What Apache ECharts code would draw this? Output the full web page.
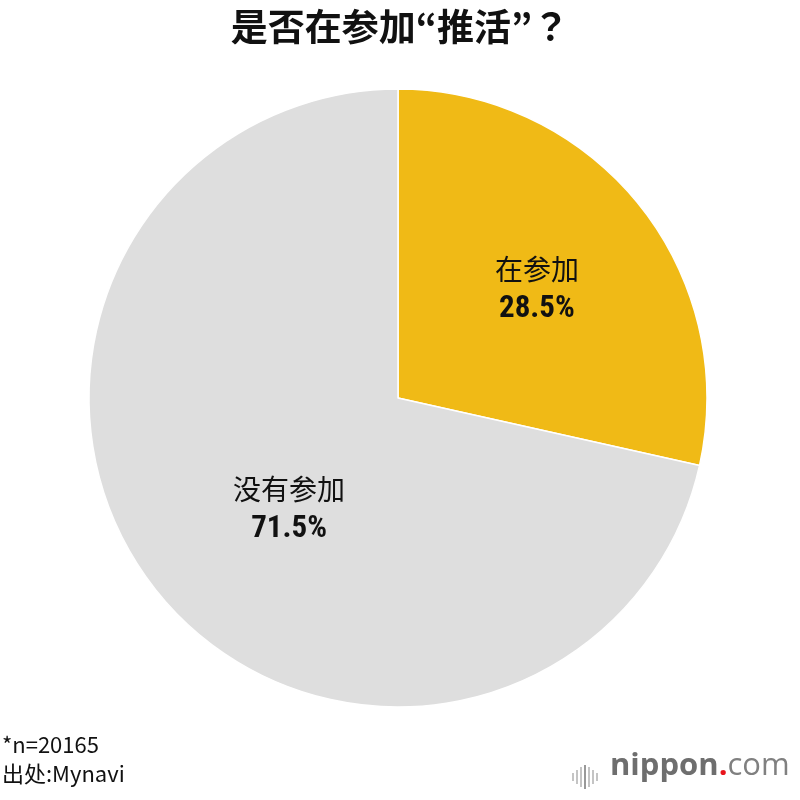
<!DOCTYPE html>
<html>
<head>
<meta charset="utf-8">
<script src="https://cdn.jsdelivr.net/npm/echarts@6/dist/echarts.min.js"></script>
<style>
html,body{margin:0;padding:0;background:#fff;}
#chart{width:800px;height:800px;}
</style>
</head>
<body>
<div id="chart"></div>
<script>
const titleText = '是否在参加“推活”？';
const categories = ['在参加', '没有参加'];
const values = [28.5, 71.5];
const colors = ['#F0BA16', '#DEDEDE'];
const noteLines = ['*n=20165', '出处:Mynavi'];

const FONT = '"Noto Sans CJK SC", "Noto Sans", sans-serif';
const FONT_JP = '"Noto Sans CJK JP", "Noto Sans CJK SC", sans-serif';
const NUMFONT = '"Liberation Sans Narrow", "Roboto Condensed", Roboto, sans-serif';
const labelOffsets = [[16, -10], [14, 13]];

const chart = echarts.init(document.getElementById('chart'), null, {renderer: 'canvas'});

const iconBars = [8, 14, 20, 24, 20, 14, 8];
const iconGraphics = iconBars.map((h, i) => ({
  type: 'rect',
  shape: {x: 572 + i * 4, y: 777 - h / 2, width: 2, height: h},
  style: {fill: i === 3 ? '#999' : '#c4c4c4'}
}));

const option = {
  backgroundColor: '#ffffff',
  animation: false,
  title: {
    text: titleText,
    left: 'center',
    top: 3,
    textStyle: {fontFamily: FONT_JP, fontSize: 37, fontWeight: 'bold', color: '#111'}
  },
  series: [{
    type: 'pie',
    center: [398, 398],
    radius: 309,
    startAngle: 90,
    clockwise: true,
    silent: true,
    itemStyle: {borderColor: '#fff', borderWidth: 1.5},
    label: {
      show: true,
      position: 'inside',
      formatter: p => '{n|' + p.name + '}\n{p|' + p.value.toFixed(1) + '%}',
      rich: {
        n: {fontFamily: FONT, fontSize: 28, color: '#111', lineHeight: 40},
        p: {fontFamily: NUMFONT, fontSize: 31, fontWeight: 'bold', color: '#111', lineHeight: 40}
      }
    },
    labelLine: {show: false},
    data: categories.map((c, i) => ({
      name: c,
      value: values[i],
      itemStyle: {color: colors[i]},
      label: {offset: labelOffsets[i]}
    }))
  }],
  graphic: [
    {
      type: 'text', left: 2, top: 734,
      style: {text: noteLines[0], font: '22px ' + FONT, fill: '#111'}
    },
    {
      type: 'text', left: 2, top: 763,
      style: {text: noteLines[1], font: '22px ' + FONT, fill: '#111'}
    },
    ...iconGraphics,
    {
      type: 'text', left: 610, top: 751,
      style: {
        text: '{a|nippon}{b|.}{c|com}',
        rich: {
          a: {fontFamily: '"Open Sans", sans-serif', fontSize: 31, fontWeight: 'bold', fill: '#6e6e6e'},
          b: {fontFamily: '"Open Sans", sans-serif', fontSize: 31, fontWeight: 'bold', fill: '#e8141c'},
          c: {fontFamily: '"Open Sans", sans-serif', fontSize: 31, fontWeight: 'normal', fill: '#808080'}
        }
      }
    }
  ]
};
chart.setOption(option);
</script>
</body>
</html>
